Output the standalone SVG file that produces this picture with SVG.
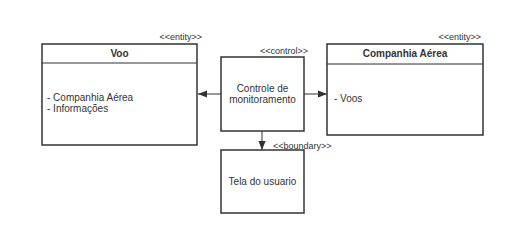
<svg xmlns="http://www.w3.org/2000/svg" width="527" height="250" viewBox="0 0 527 250">
  <style>
    .box { fill: #ffffff; stroke: #333333; stroke-width: 1.5; }
    .sep { stroke: #333333; stroke-width: 1.2; }
    .t { font-family: "Liberation Sans", Arial, sans-serif; font-size: 10px; fill: #333333; }
    .b { font-weight: bold; }
    .st { font-family: "Liberation Sans", Arial, sans-serif; font-size: 9px; fill: #333333; }
    .edge { stroke: #333333; stroke-width: 1; fill: none; marker-end: url(#arrow); }
  </style>
  <defs>
    <marker id="arrow" viewBox="0 0 10 10" refX="10" refY="5" markerWidth="9" markerHeight="9" markerUnits="userSpaceOnUse" orient="auto">
      <path d="M0,1 L10,5 L0,9 Z" fill="#333333"/>
    </marker>
  </defs>
  <rect width="527" height="250" fill="#ffffff"/>

  <g id="connectors">
    <line class="edge" x1="221" y1="94" x2="198" y2="94"/>
    <line class="edge" x1="304" y1="94" x2="327" y2="94"/>
    <line class="edge" x1="262" y1="131" x2="262" y2="150"/>
  </g>

  <g id="voo">
    <text class="st" x="202" y="40" text-anchor="end">&lt;&lt;entity&gt;&gt;</text>
    <rect class="box" x="42" y="44" width="155" height="101"/>
    <line class="sep" x1="42" y1="63" x2="197" y2="63"/>
    <text class="t b" x="119.5" y="57" text-anchor="middle">Voo</text>
    <text class="t" x="47" y="101">- Companhia Aérea</text>
    <text class="t" x="47" y="112">- Informações</text>
  </g>

  <g id="controle">
    <text class="st" x="308" y="54" text-anchor="end">&lt;&lt;control&gt;&gt;</text>
    <rect class="box" x="221" y="57" width="83" height="74"/>
    <text class="t" x="262.5" y="91.5" text-anchor="middle">Controle de</text>
    <text class="t" x="262.5" y="103" text-anchor="middle">monitoramento</text>
  </g>

  <g id="companhia">
    <text class="st" x="481" y="40" text-anchor="end">&lt;&lt;entity&gt;&gt;</text>
    <rect class="box" x="327" y="44" width="156" height="91"/>
    <line class="sep" x1="327" y1="64" x2="483" y2="64"/>
    <text class="t b" x="405" y="57" text-anchor="middle">Companhia Aérea</text>
    <text class="t" x="334" y="102">- Voos</text>
  </g>

  <g id="tela">
    <text class="st" x="273" y="149">&lt;&lt;boundary&gt;&gt;</text>
    <rect class="box" x="221" y="150" width="83" height="63"/>
    <text class="t" x="262.5" y="185" text-anchor="middle">Tela do usuario</text>
  </g>
</svg>
